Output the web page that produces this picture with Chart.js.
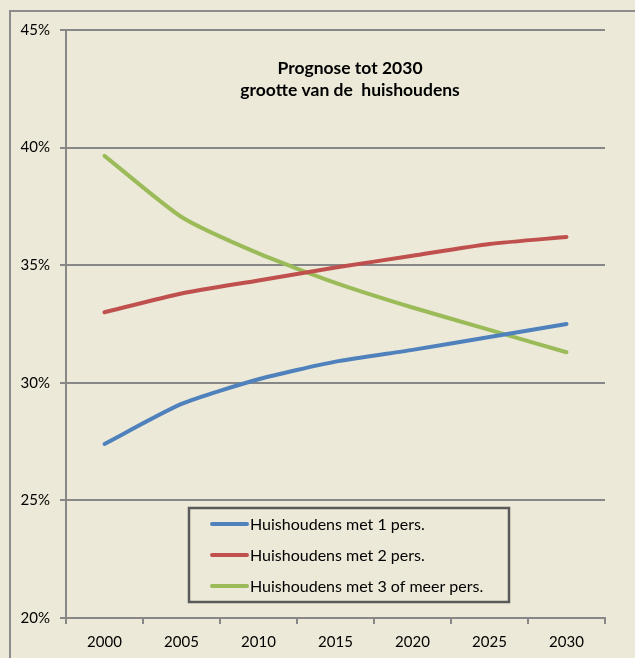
<!doctype html>
<html>
<head>
  <title>Prognose tot 2030</title>
  <script src="https://cdn.jsdelivr.net/npm/chart.js"></script>
  <style>
    body { margin: 0; background: #ECE9D8; }
    #wrap { width: 635px; height: 658px; }
  </style>
</head>
<body>
<div id="wrap"><canvas id="chart" width="635" height="658"></canvas></div>
<script>
    const years = ['2000', '2005', '2010', '2015', '2020', '2025', '2030'];
    const eenPers = [27.4, 29.1, 30.15, 30.9, 31.4, 31.95, 32.5];
    const tweePers = [33.0, 33.8, 34.35, 34.9, 35.4, 35.9, 36.2];
    const drieOfMeer = [39.65, 37.05, 35.5, 34.25, 33.2, 32.25, 31.3];
    const titleLines = ['Prognose tot 2030', 'grootte van de  huishoudens'];

    const fontName = 'Lato, "Open Sans", sans-serif';
    const axisGrey = '#878787';

    // frame, title and legend box drawn inside the plot like the original sheet
    const decor = {
        id: 'decor',
        beforeDraw(chart) {
            const c = chart.ctx;
            c.save();
            c.fillStyle = '#ECE9D8';
            c.fillRect(0, 0, chart.width, chart.height);
            c.strokeStyle = '#8c8c8c';
            c.lineWidth = 2;
            c.strokeRect(10, 11, 700, 700);
            c.restore();
        },
        afterDraw(chart) {
            const c = chart.ctx;
            const a = chart.chartArea;
            c.save();
            c.fillStyle = '#000';
            c.font = 'bold 17.5px ' + fontName;
            c.textAlign = 'center';
            c.textBaseline = 'middle';
            titleLines.forEach((t, i) => c.fillText(t, a.left + 284, a.top + 38 + i * 22));

            // legend
            const lx = 189, ly = 508, lw = 320, lh = 94;
            c.fillStyle = '#ECE9D8';
            c.fillRect(lx, ly, lw, lh);
            c.strokeStyle = '#5a5a5a';
            c.lineWidth = 2.5;
            c.strokeRect(lx, ly, lw, lh);
            c.font = '16px ' + fontName;
            c.textAlign = 'left';
            chart.data.datasets.forEach((ds, i) => {
                const y = ly + 16 + i * 31;
                c.strokeStyle = ds.borderColor;
                c.lineWidth = 4;
                c.lineCap = 'round';
                c.beginPath();
                c.moveTo(lx + 23, y);
                c.lineTo(lx + 58, y);
                c.stroke();
                c.fillStyle = '#000';
                c.fillText(ds.label, lx + 61, y + 1);
            });
            c.restore();
        }
    };

    const ctx = document.getElementById('chart').getContext('2d');
    const chart = new Chart(ctx, {
        type: 'line',
        data: {
            labels: years,
            datasets: [{
                label: 'Huishoudens met 1 pers.',
                data: eenPers,
                borderColor: '#4F81BD',
                borderWidth: 4,
                borderCapStyle: 'round',
                pointRadius: 0,
                tension: 0.2,
                fill: false
            }, {
                label: 'Huishoudens met 2 pers.',
                data: tweePers,
                borderColor: '#C0504D',
                borderWidth: 4,
                borderCapStyle: 'round',
                pointRadius: 0,
                tension: 0.2,
                fill: false
            }, {
                label: 'Huishoudens met 3 of meer pers.',
                data: drieOfMeer,
                borderColor: '#9BBB59',
                borderWidth: 4,
                borderCapStyle: 'round',
                pointRadius: 0,
                tension: 0.2,
                fill: false
            }]
        },
        options: {
            responsive: false,
            animation: false,
            layout: { padding: { left: 0, top: 30, right: 30, bottom: 0 } },
            plugins: {
                legend: { display: false },
                title: { display: false },
                tooltip: { enabled: false }
            },
            scales: {
                x: {
                    offset: true,
                    afterFit(scale) { scale.height = 40; },
                    grid: {
                        offset: true,
                        drawOnChartArea: false,
                        drawTicks: true,
                        tickLength: 6,
                        tickColor: axisGrey,
                        lineWidth: 2
                    },
                    border: { display: true, color: axisGrey, width: 2 },
                    ticks: {
                        color: '#000',
                        padding: 9,
                        font: { family: fontName, size: 15 }
                    }
                },
                y: {
                    min: 20,
                    max: 45,
                    afterFit(scale) { scale.width = 66; },
                    grid: {
                        color: axisGrey,
                        lineWidth: 2,
                        drawTicks: true,
                        tickLength: 6,
                        tickColor: axisGrey
                    },
                    border: { display: true, color: axisGrey, width: 2 },
                    ticks: {
                        stepSize: 5,
                        color: '#000',
                        padding: 10,
                        font: { family: fontName, size: 15 },
                        callback: v => v + '%'
                    }
                }
            }
        },
        plugins: [decor]
    });
</script>
</body>
</html>
